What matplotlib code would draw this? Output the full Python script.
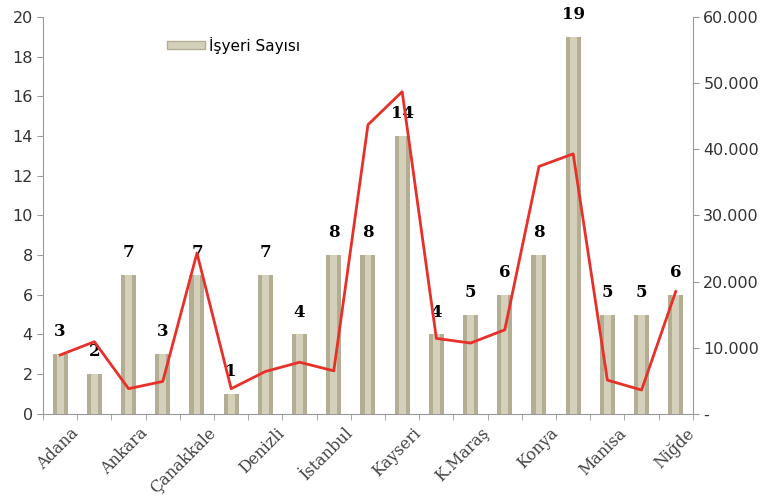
import matplotlib.pyplot as plt
import numpy as np
from matplotlib.patches import Patch
from matplotlib.ticker import FuncFormatter

labels = ["Adana", "Ankara", "Çanakkale", "Denizli", "İstanbul",
          "Kayseri", "K.Maraş", "Konya", "Manisa", "Niğde"]
isyeri = [3, 2, 7, 3, 7, 1, 7, 4, 8, 8, 14, 4, 5, 6, 8, 19, 5, 5, 6]
line_vals = [8900, 10900, 3800, 4900, 24300, 3800, 6400, 7800, 6500, 43700,
             48700, 11400, 10700, 12700, 37400, 39300, 5100, 3600, 18500]

x = np.arange(len(isyeri))

fig = plt.figure(figsize=(7.69, 4.98), dpi=100)
ax = fig.add_axes([0.056, 0.169, 0.845, 0.797])

ax.bar(x, isyeri, width=0.44, color="#b3ae93", zorder=2)
ax.bar(x, isyeri, width=0.2, color="#d4d0ba", zorder=3)
for xi, v in zip(x, isyeri):
    ax.text(xi, v + 0.7, str(v), ha="center", va="bottom",
            family="DejaVu Serif", fontweight="bold", fontsize=12, zorder=6)

ax.set_xlim(-0.5, len(isyeri) - 0.5)
ax.set_ylim(0, 20)
ax.set_yticks(np.arange(0, 21, 2))
ax.set_xticks(x[::2] + 0.3)
ax.set_xticklabels(labels, rotation=45, ha="right", rotation_mode="anchor",
                   family="DejaVu Serif", fontsize=11.5, color="#444444")
ax.set_xticks(np.arange(-0.5, len(isyeri), 1), minor=True)
ax.tick_params(axis="x", which="major", length=0, pad=8)
ax.tick_params(axis="x", which="minor", length=4, color="#999999")
ax.tick_params(axis="y", length=4, color="#999999", labelsize=11.5,
               labelcolor="#333333")
for s in ["top", "right"]:
    ax.spines[s].set_visible(False)
for s in ["left", "bottom"]:
    ax.spines[s].set_color("#999999")

ax2 = ax.twinx()
ax2.plot(x, line_vals, color="#e8302a", linewidth=2, zorder=5)
ax2.set_ylim(0, 60000)
ax2.set_yticks(np.arange(0, 60001, 10000))
ax2.yaxis.set_major_formatter(
    FuncFormatter(lambda v, p: "-" if v == 0 else f"{int(v):,}".replace(",", ".")))
ax2.tick_params(axis="y", length=4, color="#999999", labelsize=11.5,
                labelcolor="#333333")
for s in ["top", "left", "bottom"]:
    ax2.spines[s].set_visible(False)
ax2.spines["right"].set_color("#999999")

ax.legend(handles=[Patch(facecolor="#d4d0ba", edgecolor="#b3ae93")],
          labels=["İşyeri Sayısı"], loc="upper left",
          bbox_to_anchor=(0.17, 0.985), frameon=False, fontsize=11,
          handlelength=2.5, handleheight=0.4, handletextpad=0.2)

plt.savefig("out.png")
